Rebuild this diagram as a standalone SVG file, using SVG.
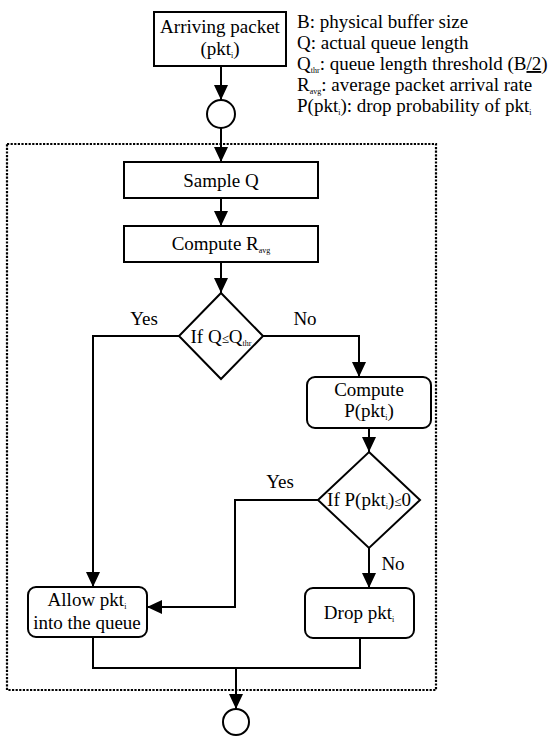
<svg xmlns="http://www.w3.org/2000/svg" width="558" height="736" viewBox="0 0 558 736">
<style>
text{font-family:"Liberation Serif","Times New Roman",serif;font-size:19px;fill:#000}
.sub{font-size:8px}
.le{font-size:13px}
.box{fill:#fff;stroke:#000;stroke-width:2}
.ln{fill:none;stroke:#000;stroke-width:2}
.dot{fill:none;stroke:#000;stroke-width:2.2;stroke-dasharray:2.2 1.4}
</style>
<defs>
<marker id="ah" markerUnits="userSpaceOnUse" markerWidth="16" markerHeight="16" refX="15" refY="7" orient="auto">
<path d="M0,0 L15,7 L0,14 z" fill="#000"/>
</marker>
</defs>
<rect class="dot" x="7" y="144" width="429" height="546"/>
<g id="legend">
<text x="297" y="28">B: physical buffer size</text>
<text x="297" y="49">Q: actual queue length</text>
<text x="297" y="70">Q<tspan class="sub" dy="3">thr</tspan><tspan dy="-3">: queue length threshold (B</tspan><tspan text-decoration="underline">/2</tspan>)</text>
<text x="297" y="91">R<tspan class="sub" dy="3">avg</tspan><tspan dy="-3">: average packet arrival rate</tspan></text>
<text x="297" y="112">P(pkt<tspan class="sub" dy="3">i</tspan><tspan dy="-3">): drop probability of pkt</tspan><tspan class="sub" dy="3">i</tspan></text>
</g>
<g id="arriving">
<rect class="box" x="154" y="12" width="132" height="54"/>
<text x="220" y="33" text-anchor="middle">Arriving packet</text>
<text x="220" y="55" text-anchor="middle">(pkt<tspan class="sub" dy="3">i</tspan><tspan dy="-3">)</tspan></text>
</g>
<g id="start">
<circle class="box" cx="221" cy="114" r="14"/>
</g>
<g id="sample">
<rect class="box" x="124" y="162" width="194" height="36"/>
<text x="221" y="187" text-anchor="middle">Sample Q</text>
</g>
<g id="computeR">
<rect class="box" x="124" y="226" width="194" height="36"/>
<text x="221" y="250" text-anchor="middle">Compute R<tspan class="sub" dy="3">avg</tspan></text>
</g>
<g id="decision1">
<path class="box" d="M221,293 L263,336 L221,379 L179,336 Z"/>
<text x="221" y="343" text-anchor="middle">If Q<tspan class="le">≤</tspan>Q<tspan class="sub" dy="3">thr</tspan></text>
</g>
<g id="computeP">
<rect class="box" x="307" y="377" width="124" height="51" rx="8"/>
<text x="369" y="396" text-anchor="middle">Compute</text>
<text x="369" y="417" text-anchor="middle">P(pkt<tspan class="sub" dy="3">i</tspan><tspan dy="-3">)</tspan></text>
</g>
<g id="decision2">
<path class="box" d="M369,452 L420,500 L369,548 L318,500 Z"/>
<text x="369" y="506" text-anchor="middle">If P(pkt<tspan class="sub" dy="3">i</tspan><tspan dy="-3">)</tspan><tspan class="le">≤</tspan>0</text>
</g>
<g id="allow">
<rect class="box" x="28" y="587" width="119" height="50" rx="8"/>
<text x="87" y="606" text-anchor="middle">Allow pkt<tspan class="sub" dy="3">i</tspan></text>
<text x="87" y="629" text-anchor="middle">into the queue</text>
</g>
<g id="drop">
<rect class="box" x="305" y="588" width="109" height="50" rx="8"/>
<text x="359" y="619" text-anchor="middle">Drop pkt<tspan class="sub" dy="3">i</tspan></text>
</g>
<g id="end">
<circle class="box" cx="236" cy="722" r="13"/>
</g>
<g id="connectors">
<line class="ln" x1="221" y1="66" x2="221" y2="100" marker-end="url(#ah)"/>
<line class="ln" x1="221" y1="128" x2="221" y2="162" marker-end="url(#ah)"/>
<line class="ln" x1="221" y1="198" x2="221" y2="226" marker-end="url(#ah)"/>
<line class="ln" x1="221" y1="262" x2="221" y2="293" marker-end="url(#ah)"/>
<polyline class="ln" points="179,336 93,336 93,587" marker-end="url(#ah)"/>
<polyline class="ln" points="263,336 359,336 359,377" marker-end="url(#ah)"/>
<line class="ln" x1="369" y1="428" x2="369" y2="452" marker-end="url(#ah)"/>
<polyline class="ln" points="318,500 235,500 235,607 147,607" marker-end="url(#ah)"/>
<line class="ln" x1="369" y1="548" x2="369" y2="588" marker-end="url(#ah)"/>
<polyline class="ln" points="93,637 93,668 360,668 360,638"/>
<line class="ln" x1="236" y1="668" x2="236" y2="709" marker-end="url(#ah)"/>
<text x="144" y="325" text-anchor="middle">Yes</text>
<text x="305" y="325" text-anchor="middle">No</text>
<text x="280" y="488" text-anchor="middle">Yes</text>
<text x="393" y="570" text-anchor="middle">No</text>
</g>
</svg>
